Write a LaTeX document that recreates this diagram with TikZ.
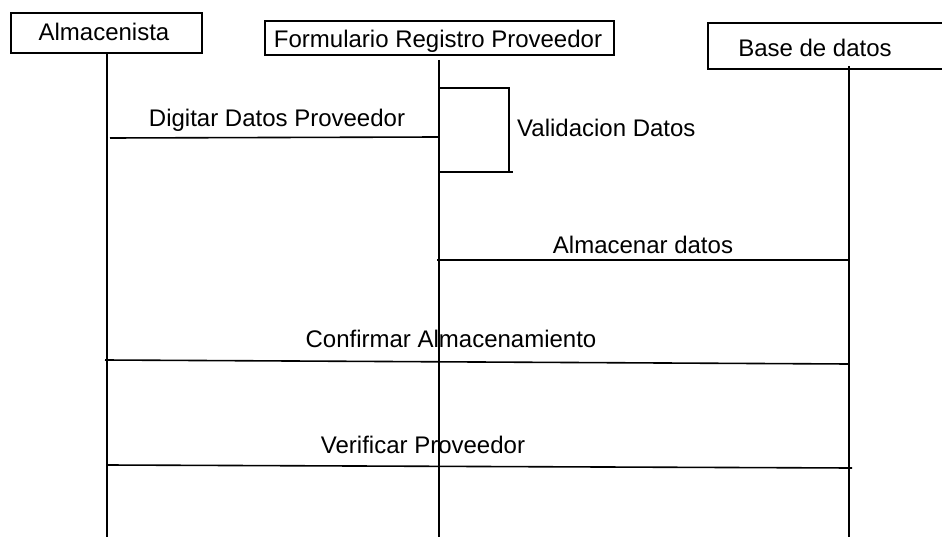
\documentclass[tikz,border=0pt]{standalone}
\usepackage{fontspec}
\setmainfont{Liberation Sans}
\begin{document}
\begin{tikzpicture}[x=1pt,y=-1pt,
  line/.style={line width=1.6pt,black},
  box/.style={draw,line width=1.6pt,inner sep=0pt,anchor=north west},
  lbl/.style={font=\fontsize{24}{26}\selectfont,inner sep=0pt,anchor=base}]
\useasboundingbox (0,0) rectangle (942,540);
% lifeline heads
\node[box,minimum width=191pt,minimum height=40pt] (alm) at (10,12) {};
\node[lbl] (almt) at (104,41) {Almacenista};
\node[box,minimum width=349pt,minimum height=34pt] (frm) at (264,20) {};
\node[lbl] (frmt) at (438,48) {Formulario Registro Proveedor};
\node[box,minimum width=260pt,minimum height=46pt] (bd) at (707,22) {};
\node[lbl] (bdt) at (815,57) {Base de datos};
% lifeline coordinates
\coordinate (a0) at (107,53); \coordinate (a1) at (107,537);
\coordinate (f0) at (439,60); \coordinate (f1) at (439,537);
\coordinate (b0) at (849,66); \coordinate (b1) at (849,537);
\draw[line] (a0) -- (a1);
\draw[line] (f0) -- (f1);
\draw[line] (b0) -- (b1);
% self validation
\coordinate (v0) at (439,88); \coordinate (v1) at (509,88);
\coordinate (v2) at (509,172); \coordinate (v3) at (439,172);
\coordinate (v4) at (513,172);
\draw[line] (v0) -- (v1) -- (v2);
\draw[line] (v3) -- (v4);
\node[lbl,anchor=base west] (valt) at (517,137) {Validacion Datos};
% messages
\coordinate (m1a) at (110,138); \coordinate (m1b) at (439,137);
\draw[line] (m1a) -- (m1b);
\node[lbl] (m1t) at (277,127) {Digitar Datos Proveedor};
\coordinate (m2a) at (437,260); \coordinate (m2b) at (849,260);
\draw[line] (m2a) -- (m2b);
\node[lbl] (m2t) at (643,253) {Almacenar datos};
\coordinate (m3a) at (105,360); \coordinate (m3b) at (849,364);
\draw[line] (m3a) -- (m3b);
\node[lbl] (m3t) at (451,347) {Confirmar Almacenamiento};
\coordinate (m4a) at (107,465); \coordinate (m4b) at (852,468);
\draw[line] (m4a) -- (m4b);
\node[lbl] (m4t) at (423,453) {Verificar Proveedor};
\end{tikzpicture}
\end{document}
